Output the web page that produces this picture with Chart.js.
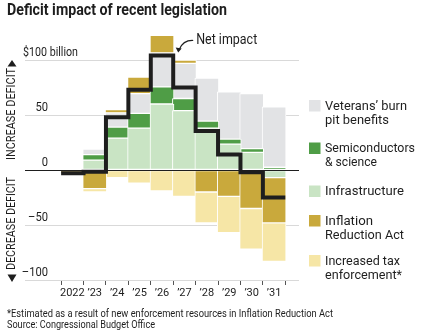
<!DOCTYPE html>
<html>
<head>
<meta charset="utf-8">
<script src="https://cdn.jsdelivr.net/npm/chart.js@4"></script>
<style>
  body { margin: 0; background: #fff; }
  canvas { display: block; }
</style>
</head>
<body>
<canvas id="deficitChart" width="424" height="336"></canvas>
<script>
// values in $ billions
const years = ['2022', '’23', '’24', '’25', '’26', '’27', '’28', '’29', '’30', '’31'];
const infrastructure = [0, 9, 29, 38, 60, 54, 38, 23.5, 16, -7];
const semiconductors = [0, 5, 10, 13.5, 15.5, 11, 6.5, 4.5, 3.5, 2.5];
const veterans = [0, 5, 13, 18, 31, 32, 39, 43, 50, 55];
const inflationReduction = [-3, -17, 3, 15, 16, 3, -20, -24, -35, -41];
const taxEnforcement = [0, -3, -7, -12, -19, -24, -28, -33, -37, -35];
const netImpact = [-3, -1.5, 48, 73, 104, 75, 35.5, 14, -2, -25];
const yTicks = [-100, -50, 0, 50, 100];

const FONT = 'Roboto, "Noto Sans", sans-serif';
const INK = '#1e1e1e';

// step line: each year's value runs across its whole slot
const netPoints = netImpact.map((v, i) => ({ x: i - 0.5, y: v }));
netPoints.push({ x: years.length - 0.5, y: netImpact[netImpact.length - 1] });

const toPoints = arr => arr.map((v, i) => ({ x: i, y: v }));

function barSet(label, values, color) {
    return {
        type: 'bar',
        label: label,
        data: toPoints(values),
        backgroundColor: color,
        borderColor: '#fff',
        borderWidth: 1,
        borderSkipped: false,
        barThickness: 24,
        order: 1
    };
}

// legend entries, top to bottom
const legendItems = [
    { lines: ['Veterans’ burn', 'pit benefits'], color: '#e2e3e5', widths: [82, 64] },
    { lines: ['Semiconductors', '& science'], color: '#4f9d46', widths: [90, 52] },
    { lines: ['Infrastructure'], color: '#c9e4c4', widths: [79] },
    { lines: ['Inflation', 'Reduction Act'], color: '#c9a93c', widths: [48, 79] },
    { lines: ['Increased tax', 'enforcement*'], color: '#f6e6a6', widths: [75, 77] }
];

function fitText(ctx, str, x, y, width, font, align) {
    ctx.save();
    ctx.font = font;
    ctx.textBaseline = 'middle';
    ctx.textAlign = align || 'left';
    const w = ctx.measureText(str).width;
    ctx.translate(x, y);
    ctx.scale(width / w, 1);
    ctx.fillText(str, 0, 0);
    ctx.restore();
}

const decorations = {
    id: 'decorations',
    afterDatasetsDraw(chart) {
        const { ctx, chartArea, scales } = chart;
        // zero line
        const y0 = scales.y.getPixelForValue(0);
        ctx.save();
        ctx.strokeStyle = INK;
        ctx.lineWidth = 1;
        ctx.beginPath();
        ctx.moveTo(chartArea.left, Math.round(y0) + 0.5);
        ctx.lineTo(chartArea.right, Math.round(y0) + 0.5);
        ctx.stroke();
        ctx.restore();
    },
    afterDraw(chart) {
        const { ctx, scales } = chart;
        ctx.save();
        ctx.fillStyle = INK;

        // title
        fitText(ctx, 'Deficit impact of recent legislation', 7, 11, 220, 'bold 16px ' + FONT);

        // y labels sit just above their gridlines
        yTicks.forEach(v => {
            const y = scales.y.getPixelForValue(v) - 7.5;
            if (v === 100) {
                fitText(ctx, '$100 billion', 23, y, 55, '13px ' + FONT);
            } else {
                const s = v < 0 ? '–' + Math.abs(v) : String(v);
                ctx.font = '13px ' + FONT;
                const w = ctx.measureText(s).width * 0.86;
                fitText(ctx, s, 48, y, w, '13px ' + FONT, 'right');
            }
        });

        // rotated side labels
        ctx.save();
        ctx.translate(12, 114);
        ctx.rotate(-Math.PI / 2);
        fitText(ctx, 'INCREASE DEFICIT', 0, 0, 92, '13px ' + FONT, 'center');
        ctx.restore();
        ctx.save();
        ctx.translate(12, 223.5);
        ctx.rotate(-Math.PI / 2);
        fitText(ctx, 'DECREASE DEFICIT', 0, 0, 93, '13px ' + FONT, 'center');
        ctx.restore();
        ctx.beginPath();
        ctx.moveTo(12, 60); ctx.lineTo(16.5, 66.5); ctx.lineTo(7.5, 66.5); ctx.closePath();
        ctx.fill();
        ctx.beginPath();
        ctx.moveTo(12, 282); ctx.lineTo(16.5, 274.5); ctx.lineTo(7.5, 274.5); ctx.closePath();
        ctx.fill();

        // net impact callout
        const ax = scales.x.getPixelForValue(4.5) + 5;
        const ay = scales.y.getPixelForValue(netImpact[4]) - 3;
        fitText(ctx, 'Net impact', ax + 18, 40.5, 61, '14px ' + FONT);
        ctx.strokeStyle = INK;
        ctx.lineWidth = 1.2;
        ctx.beginPath();
        ctx.moveTo(ax + 15, 40.5);
        ctx.quadraticCurveTo(ax + 5, 40, ax + 1, ay - 3);
        ctx.stroke();
        ctx.beginPath();
        ctx.moveTo(ax, ay);
        ctx.lineTo(ax - 2.5, ay - 5);
        ctx.lineTo(ax + 3.5, ay - 4);
        ctx.closePath();
        ctx.fill();

        // legend
        const tops = [100, 142.5, 185.5, 215, 255];
        legendItems.forEach((item, k) => {
            const top = tops[k];
            ctx.fillStyle = item.color;
            ctx.fillRect(309, top, 11.5, 11.5);
            ctx.fillStyle = INK;
            item.lines.forEach((line, j) => {
                fitText(ctx, line, 325, top + 6.5 + j * 14, item.widths[j], '13px ' + FONT);
            });
        });

        // footnotes
        fitText(ctx, '*Estimated as a result of new enforcement resources in Inflation Reduction Act', 7, 314, 326, '11px ' + FONT);
        fitText(ctx, 'Source: Congressional Budget Office', 7, 325.5, 148, '11px ' + FONT);
        ctx.restore();
    }
};

const ctx = document.getElementById('deficitChart').getContext('2d');
const deficitChart = new Chart(ctx, {
    data: {
        datasets: [
            {
                type: 'line',
                label: 'Net impact',
                data: netPoints,
                stepped: true,
                borderColor: INK,
                borderWidth: 4,
                borderJoinStyle: 'miter',
                borderCapStyle: 'butt',
                pointRadius: 0,
                fill: false,
                stack: 'net',
                order: 0
            },
            barSet('Infrastructure', infrastructure, legendItems[2].color),
            barSet('Semiconductors & science', semiconductors, legendItems[1].color),
            barSet('Veterans’ burn pit benefits', veterans, legendItems[0].color),
            barSet('Inflation Reduction Act', inflationReduction, legendItems[3].color),
            barSet('Increased tax enforcement', taxEnforcement, legendItems[4].color)
        ]
    },
    options: {
        responsive: false,
        animation: false,
        layout: { padding: { left: 25, right: 125, top: 32.5, bottom: 36 } },
        scales: {
            x: {
                type: 'linear',
                min: -1.5,
                max: 9.5,
                stacked: true,
                afterBuildTicks: s => { s.ticks = years.map((_, i) => ({ value: i })); },
                afterFit: s => { s.height = 20; },
                ticks: {
                    callback: v => years[v],
                    font: { size: 11, family: FONT },
                    color: INK,
                    padding: 2,
                    maxRotation: 0,
                    autoSkip: false
                },
                grid: { drawOnChartArea: false, drawTicks: true, tickLength: 5, color: '#555' },
                border: { display: false }
            },
            y: {
                min: -100,
                max: 125,
                stacked: true,
                afterBuildTicks: s => { s.ticks = yTicks.map(v => ({ value: v })); },
                afterFit: s => { s.width = 0; },
                ticks: { display: false },
                grid: {
                    color: c => (c.tick && c.tick.value === 0) ? 'rgba(0,0,0,0)' : '#d9d9d9',
                    drawTicks: false
                },
                border: { display: false }
            }
        },
        plugins: {
            legend: { display: false },
            tooltip: { enabled: false }
        }
    },
    plugins: [decorations]
});
</script>
</body>
</html>
